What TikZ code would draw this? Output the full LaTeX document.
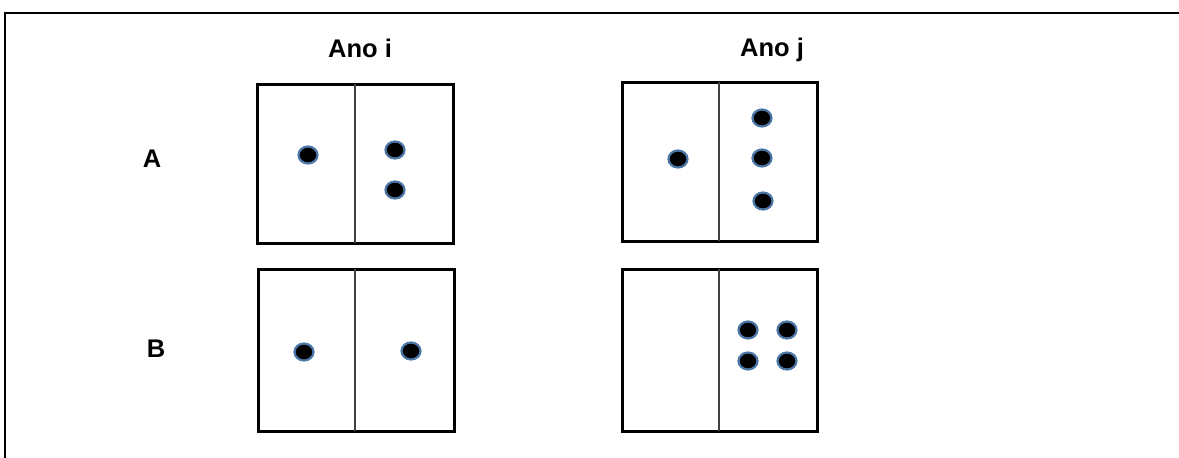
\documentclass[tikz,border=0pt]{standalone}
\usepackage{fontspec}
\setmainfont{Liberation Sans}
\definecolor{dotrim}{HTML}{4A77A8}
\definecolor{divgray}{HTML}{404040}
\usetikzlibrary{shapes.geometric}
\tikzset{
  panel/.style={draw=black, line width=3pt, fill=white},
  divider/.style={draw=divgray, line width=1.5pt},
  dot/.style={ellipse, draw=dotrim, line width=2.2pt, fill=black, minimum width=19pt, minimum height=17pt, inner sep=0pt},
  lbl/.style={font=\bfseries\fontsize{25.5}{28}\selectfont, inner sep=0pt, anchor=base},
  frame/.style={draw=black, line width=2pt}
}
\begin{document}
\begin{tikzpicture}[x=1pt,y=-1pt]
\useasboundingbox (0,0) rectangle (1179,458);
% outer frame (extends beyond the visible area)
\draw[frame] (4.5,500) -- (4.5,13) -- (1200,13);
% labels
\node[lbl] (anoi) at (360,57) {Ano i};
\node[lbl] (anoj) at (772,56) {Ano j};
\node[lbl] (la) at (152,167) {A};
\node[lbl] (lb) at (156,357) {B};
% panel A, year i
\draw[panel] (257,84) rectangle (453,243);
\draw[divider] (355,84) -- (355,243);
\node[dot] (ai1) at (308,155) {};
\node[dot] (ai2) at (395,150) {};
\node[dot] (ai3) at (395,190) {};
% panel A, year j
\draw[panel] (622,82) rectangle (817,241);
\draw[divider] (719,82) -- (719,241);
\node[dot] (aj1) at (678,159) {};
\node[dot] (aj2) at (762,118) {};
\node[dot] (aj3) at (762,158) {};
\node[dot] (aj4) at (763,201) {};
% panel B, year i
\draw[panel] (258,269) rectangle (454,431);
\draw[divider] (355,269) -- (355,431);
\node[dot] (bi1) at (304,352) {};
\node[dot] (bi2) at (411,351) {};
% panel B, year j
\draw[panel] (622,269) rectangle (817,431);
\draw[divider] (719,269) -- (719,431);
\node[dot] (bj1) at (748,330) {};
\node[dot] (bj2) at (787,330) {};
\node[dot] (bj3) at (748,361) {};
\node[dot] (bj4) at (787,361) {};
\end{tikzpicture}
\end{document}
